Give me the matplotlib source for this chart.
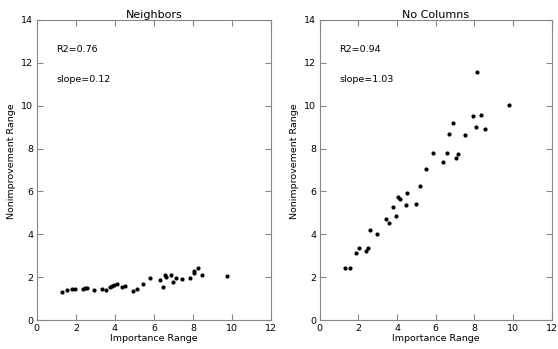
import matplotlib
matplotlib.use('Agg')
import matplotlib.pyplot as plt

# Neighbors panel
nb_x = [1.28, 1.54, 1.81, 1.98, 2.34, 2.46, 2.58, 2.92, 3.35, 3.54, 3.74, 3.86,
        3.97, 4.10, 4.38, 4.50, 4.92, 5.13, 5.44, 5.81, 6.29, 6.48, 6.58, 6.62,
        6.87, 6.97, 7.11, 7.44, 7.86, 8.03, 8.07, 8.24, 8.48, 9.76]
nb_y = [1.33, 1.38, 1.45, 1.45, 1.44, 1.48, 1.48, 1.42, 1.47, 1.42, 1.53, 1.58,
        1.63, 1.66, 1.56, 1.58, 1.36, 1.45, 1.69, 1.97, 1.86, 1.56, 2.09, 2.00,
        2.09, 1.78, 1.97, 1.92, 1.98, 2.19, 2.31, 2.41, 2.08, 2.06]

# No Columns panel
nc_x = [1.32, 1.56, 1.86, 2.03, 2.41, 2.49, 2.61, 2.97, 3.40, 3.59, 3.80, 3.92,
        4.07, 4.16, 4.45, 4.52, 4.97, 5.19, 5.50, 5.86, 6.36, 6.56, 6.68, 6.91,
        7.04, 7.16, 7.51, 7.94, 8.09, 8.14, 8.32, 8.54, 9.81]
nc_y = [2.45, 2.45, 3.14, 3.34, 3.22, 3.38, 4.22, 4.03, 4.72, 4.53, 5.28, 4.83,
        5.72, 5.63, 5.38, 5.92, 5.39, 6.23, 7.06, 7.81, 7.38, 7.81, 8.69, 9.17,
        7.58, 7.75, 8.63, 9.50, 9.02, 11.55, 9.56, 8.89, 10.05]

panels = [("Neighbors", nb_x, nb_y, "R2=0.76", "slope=0.12"),
          ("No Columns", nc_x, nc_y, "R2=0.94", "slope=1.03")]

fig = plt.figure(figsize=(5.58, 3.49), dpi=100)
boxes = [[0.066, 0.083, 0.420, 0.860], [0.573, 0.083, 0.416, 0.860]]
fs = 6.8

for box, (title, xs, ys, r2, slope) in zip(boxes, panels):
    ax = fig.add_axes(box)
    ax.scatter(xs, ys, s=9, color='black', linewidths=0, zorder=3)
    ax.set_xlim(0, 12)
    ax.set_ylim(0, 14)
    ax.set_xticks(range(0, 13, 2))
    ax.set_yticks(range(0, 15, 2))
    ax.tick_params(direction='in', top=True, right=True, labelsize=fs,
                   length=4, color='#888888', pad=2.5)
    for sp in ax.spines.values():
        sp.set_color('#888888')
    ax.set_title(title, fontsize=8, pad=1.5)
    ax.set_xlabel("Importance Range", fontsize=fs, labelpad=1)
    ax.set_ylabel("Nonimprovement Range", fontsize=fs)
    ax.yaxis.set_label_coords(-0.09, 0.53)
    ax.text(1.0, 12.5, r2, fontsize=fs)
    ax.text(1.0, 11.1, slope, fontsize=fs)

fig.savefig("out.png", dpi=100)
